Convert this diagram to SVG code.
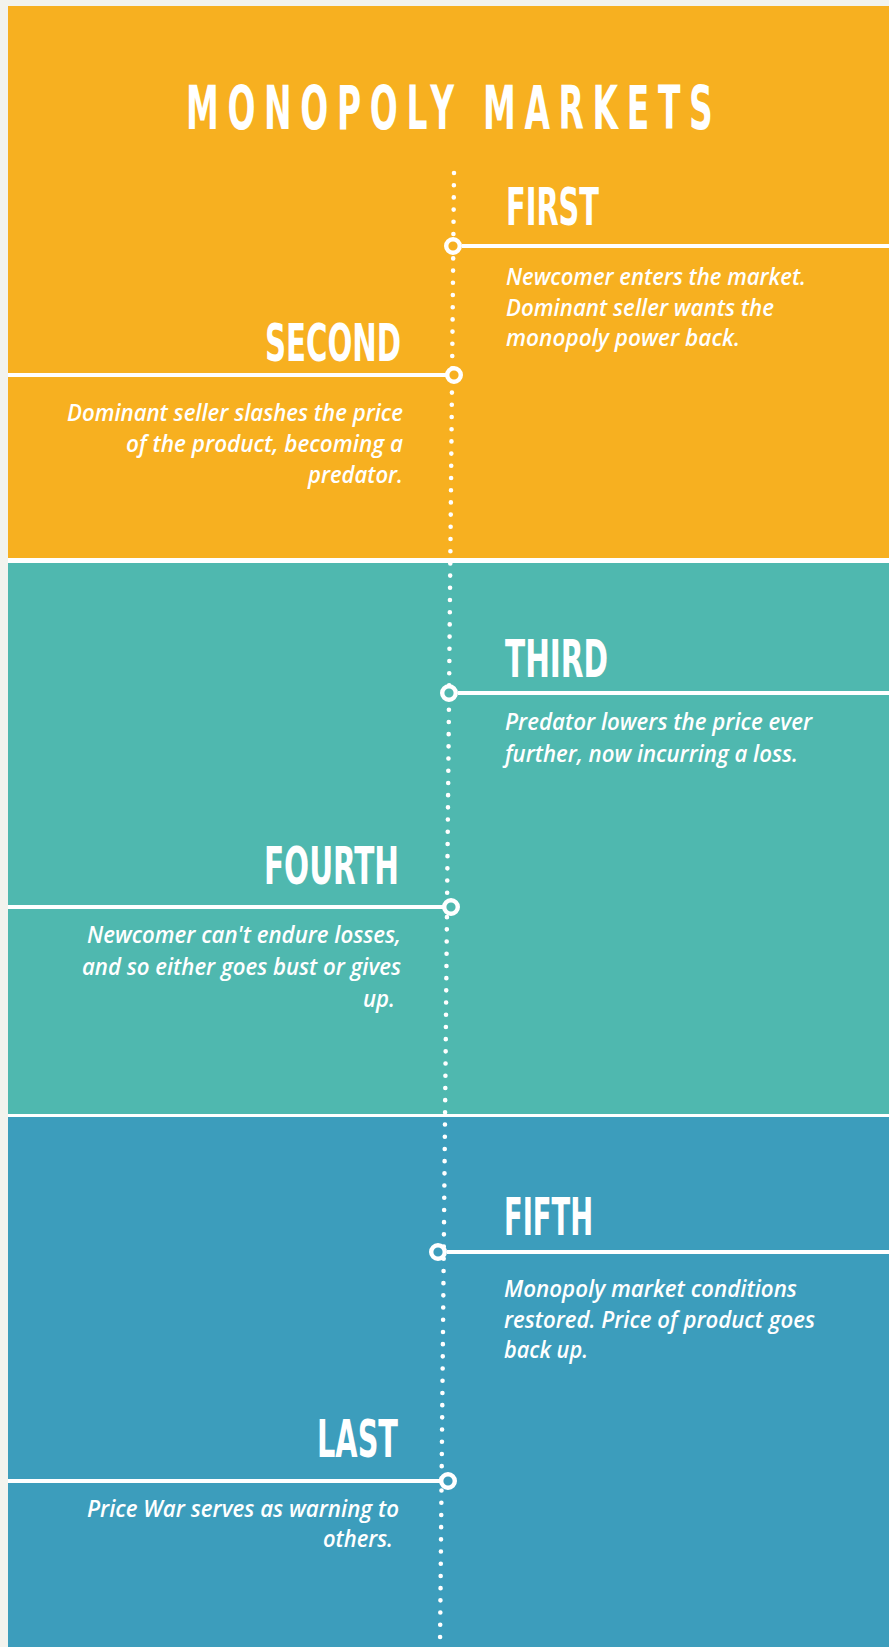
<svg xmlns="http://www.w3.org/2000/svg" width="889" height="1647" viewBox="0 0 889 1647">
  <style>
    .title { font-family: "Liberation Sans Narrow", "DejaVu Sans Condensed", "Liberation Sans", sans-serif; font-weight: 700; font-size: 61px; fill: #ffffff; }
    .head { font-family: "Liberation Sans Narrow", "DejaVu Sans Condensed", "Liberation Sans", sans-serif; font-weight: 700; font-size: 52px; fill: #ffffff; }
    .body { font-family: "Open Sans", "Noto Sans", "Liberation Sans", sans-serif; font-style: italic; font-weight: 600; font-size: 22.5px; fill: #ffffff; }
    .spine { stroke: #ffffff; stroke-width: 4.6; stroke-linecap: round; stroke-dasharray: 0 12.2; fill: none; }
    .leader { stroke: #ffffff; stroke-width: 4; fill: none; }
    .dot { stroke: #ffffff; stroke-width: 4.4; }
    .orange { fill: #F7B020; }
    .teal { fill: #4FB8AF; }
    .blue { fill: #3C9DBC; }
  </style>

  <!-- page and section bands -->
  <rect x="0" y="0" width="889" height="1647" fill="#F2F3EE"/>
  <rect x="8" y="6" width="881" height="1641" fill="#ffffff"/>
  <rect class="orange" x="8" y="6" width="881" height="552"/>
  <rect class="teal" x="8" y="563" width="881" height="551"/>
  <rect class="blue" x="8" y="1117" width="881" height="530"/>

  <!-- title: condensed glyphs, wide tracking -->
  <g id="title" transform="translate(186,129) scale(0.6,1)">
    <text class="title" x="0" y="0" textLength="878" lengthAdjust="spacing">MONOPOLY MARKETS</text>
  </g>

  <!-- timeline spine and leader lines -->
  <g id="connectors">
    <line class="spine" x1="454" y1="173" x2="440" y2="1647"/>
    <line class="leader" x1="462" y1="246" x2="889" y2="246"/>
    <line class="leader" x1="8" y1="375" x2="446" y2="375"/>
    <line class="leader" x1="458" y1="693" x2="889" y2="693"/>
    <line class="leader" x1="8" y1="907" x2="443" y2="907"/>
    <line class="leader" x1="447" y1="1252" x2="889" y2="1252"/>
    <line class="leader" x1="8" y1="1481" x2="440" y2="1481"/>
  </g>

  <g id="step-first">
    <circle class="dot orange" cx="453" cy="246" r="6.8"/>
    <text class="head" x="506" y="225" textLength="93" lengthAdjust="spacingAndGlyphs">FIRST</text>
    <text class="body" x="506" y="285" textLength="300" lengthAdjust="spacingAndGlyphs">Newcomer enters the market.</text>
    <text class="body" x="506" y="316" textLength="268" lengthAdjust="spacingAndGlyphs">Dominant seller wants the</text>
    <text class="body" x="506" y="346" textLength="234" lengthAdjust="spacingAndGlyphs">monopoly power back.</text>
  </g>

  <g id="step-second">
    <circle class="dot orange" cx="454" cy="375" r="6.8"/>
    <text class="head" x="265" y="361" textLength="136" lengthAdjust="spacingAndGlyphs">SECOND</text>
    <text class="body" x="67" y="421" textLength="336" lengthAdjust="spacingAndGlyphs">Dominant seller slashes the price</text>
    <text class="body" x="126" y="452" textLength="277" lengthAdjust="spacingAndGlyphs">of the product, becoming a</text>
    <text class="body" x="308" y="483" textLength="95" lengthAdjust="spacingAndGlyphs">predator.</text>
  </g>

  <g id="step-third">
    <circle class="dot teal" cx="449" cy="693" r="6.8"/>
    <text class="head" x="505" y="677" textLength="103" lengthAdjust="spacingAndGlyphs">THIRD</text>
    <text class="body" x="505" y="730" textLength="307" lengthAdjust="spacingAndGlyphs">Predator lowers the price ever</text>
    <text class="body" x="505" y="762" textLength="293" lengthAdjust="spacingAndGlyphs">further, now incurring a loss.</text>
  </g>

  <g id="step-fourth">
    <circle class="dot teal" cx="451" cy="907" r="6.8"/>
    <text class="head" x="264" y="884" textLength="135" lengthAdjust="spacingAndGlyphs">FOURTH</text>
    <text class="body" x="87" y="943" textLength="314" lengthAdjust="spacingAndGlyphs">Newcomer can't endure losses,</text>
    <text class="body" x="82" y="975" textLength="319" lengthAdjust="spacingAndGlyphs">and so either goes bust or gives</text>
    <text class="body" x="363" y="1007" textLength="32" lengthAdjust="spacingAndGlyphs">up.</text>
  </g>

  <g id="step-fifth">
    <circle class="dot blue" cx="438" cy="1252" r="6.8"/>
    <text class="head" x="504" y="1235" textLength="89" lengthAdjust="spacingAndGlyphs">FIFTH</text>
    <text class="body" x="504" y="1297" textLength="293" lengthAdjust="spacingAndGlyphs">Monopoly market conditions</text>
    <text class="body" x="504" y="1328" textLength="311" lengthAdjust="spacingAndGlyphs">restored. Price of product goes</text>
    <text class="body" x="504" y="1358" textLength="84" lengthAdjust="spacingAndGlyphs">back up.</text>
  </g>

  <g id="step-last">
    <circle class="dot blue" cx="448" cy="1481" r="6.8"/>
    <text class="head" x="317" y="1457" textLength="81" lengthAdjust="spacingAndGlyphs">LAST</text>
    <text class="body" x="87" y="1517" textLength="312" lengthAdjust="spacingAndGlyphs">Price War serves as warning to</text>
    <text class="body" x="323" y="1547" textLength="70" lengthAdjust="spacingAndGlyphs">others.</text>
  </g>
</svg>
